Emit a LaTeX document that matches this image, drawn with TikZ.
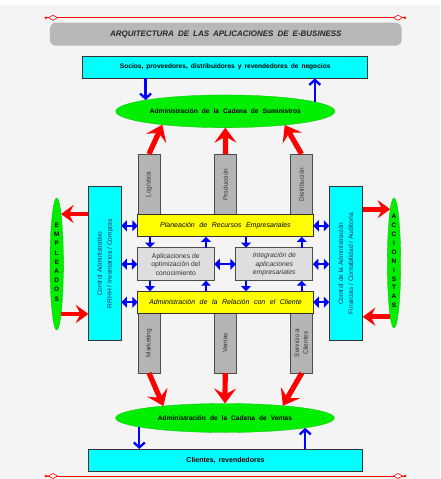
\documentclass[tikz,border=0pt]{standalone}
\usepackage{fontspec}
\setmainfont{Liberation Sans}
\usetikzlibrary{shapes.geometric,arrows.meta,calc}
\definecolor{bgcol}{HTML}{F4F4F4}
\definecolor{cyanbox}{HTML}{00FFFF}
\definecolor{ylw}{HTML}{FFFF00}
\definecolor{grn}{HTML}{00EE00}
\definecolor{colgray}{HTML}{B4B4B4}
\definecolor{boxgray}{HTML}{DEDEDE}
\definecolor{titgray}{HTML}{B8B8B8}
\definecolor{bluea}{HTML}{0000FF}
\definecolor{reda}{HTML}{FF0000}
\definecolor{coltxt}{HTML}{333333}
\definecolor{cytxt}{HTML}{1E2F66}
\newcommand{\wsp}[1]{\spaceskip #1\relax}
\begin{document}
\begin{tikzpicture}[x=1pt,y=-1pt,
  every node/.style={inner sep=0pt, outer sep=0pt},
  titlebox/.style={fill=titgray, rounded corners=6pt, minimum width=351.7pt, minimum height=23pt,
     font=\fontsize{8}{9}\selectfont\bfseries\itshape\wsp{4pt}, text=black!85},
  cybox/.style={fill=cyanbox, draw=black!80, line width=0.8pt},
  hbox/.style={cybox, font=\fontsize{6.6}{7.5}\selectfont\bfseries\wsp{3pt}},
  vbox/.style={cybox, minimum width=33pt, minimum height=154pt,
     font=\fontsize{6.6}{10}\selectfont, text=cytxt},
  greenell/.style={ellipse, fill=grn, draw=grn!80!black, line width=0.3pt},
  bigell/.style={greenell, font=\fontsize{6.6}{7.5}\selectfont\bfseries\wsp{4pt}},
  smallell/.style={greenell, minimum width=13.4pt,
     font=\fontsize{6.4}{9.2}\selectfont\bfseries},
  colbox/.style={fill=colgray, draw=black!70, line width=0.7pt, minimum width=22pt, minimum height=61pt,
     font=\fontsize{6.4}{8.6}\selectfont, text=coltxt},
  ybar/.style={fill=ylw, draw=black!80, line width=0.8pt, minimum width=175.5pt, minimum height=22pt,
     font=\fontsize{7}{8}\selectfont\itshape\wsp{4.6pt}},
  gbox/.style={fill=boxgray, draw=black!70, line width=0.7pt, minimum width=77pt, minimum height=33pt,
     font=\fontsize{6.8}{8.6}\selectfont, text=black!80, align=center},
  rarr/.style={draw=reda, line width=5.2pt, -{Stealth[length=15pt 0 0,width=22pt 0,inset=6pt 0]}},
  rarrs/.style={draw=reda, line width=4.8pt, -{Stealth[length=12.5pt 0 0,width=18pt 0,inset=4.5pt 0]}},
  barr/.style={draw=bluea, line width=2.3pt, -{Triangle[length=5pt 0 0,width=9.5pt 0]}},
  bdbl/.style={draw=bluea, line width=2.5pt, {Triangle[length=5.5pt 0 0,width=11pt 0]}-{Triangle[length=5.5pt 0 0,width=11pt 0]}},
  bout/.style={draw=bluea, line width=2.3pt, -{Straight Barb[length=5pt 0 0,width=11pt 0]}},
  rline/.style={draw=reda, line width=0.8pt},
  rdiam/.style={diamond, draw=reda, fill=white, line width=0.6pt, minimum width=9pt, minimum height=5pt},
  rdot/.style={circle, fill=reda, minimum size=2.8pt}
]
\useasboundingbox (0,0) rectangle (440,479);
\fill[bgcol] (0,5) rectangle (440,479);

% decorative red lines
\node[rdot] (dl1) at (46,17.7) {};
\node[rdot] (dr1) at (405,17.7) {};
\draw[rline] (dl1) -- (dr1);
\node[rdiam] (ml1) at (53,17.7) {};
\node[rdiam] (mr1) at (398,17.7) {};
\node[rdot] (dl2) at (46,476) {};
\node[rdot] (dr2) at (405,476) {};
\draw[rline] (dl2) -- (dr2);
\node[rdiam] (ml2) at (53,476) {};
\node[rdiam] (mr2) at (398,476) {};

% title
\node[titlebox] (title) at (225.8,34.2) {ARQUITECTURA DE LAS APLICACIONES DE E-BUSINESS};

% partners box
\node[hbox, minimum width=285pt, minimum height=22.3pt] (socios) at (225.2,67.2)
  {Socios, proveedores, distribuidores y revendedores de negocios};

% supply chain ellipse
\node[bigell, minimum width=219pt, minimum height=32.7pt] (sumi) at (225.3,111.3)
  {\makebox[0pt]{Administración de la Cadena de Suministros}};

% upper columns
\node[colbox] (logi) at (149,184.5) {\rotatebox{90}{Logística}};
\node[colbox] (prod) at (225.5,184.5) {\rotatebox{90}{Producción}};
\node[colbox] (dist) at (301.5,184.5) {\rotatebox{90}{Distribución}};

% lower columns
\node[colbox, minimum height=60pt] (mark) at (149,343) {\rotatebox{90}{Marketing}};
\node[colbox, minimum height=60pt] (vtas) at (225.2,343) {\rotatebox{90}{Ventas}};
\node[colbox, minimum height=60pt] (serv) at (301.8,343)
  {\rotatebox{90}{\begin{tabular}{@{}c@{}}Servicio a\\Clientes\end{tabular}}};

% yellow bars
\node[ybar] (plan) at (225.5,225.8) {Planeación de Recursos Empresariales};
\node[ybar] (rel) at (225.5,302.2) {Administración de la Relación con el Cliente};

% grey boxes
\node[gbox] (apl) at (175.8,264.2) {Aplicaciones de\\optimización del\\conocimiento};
\node[gbox, font=\fontsize{6.8}{8.6}\selectfont\itshape] (integ) at (274.3,264.2)
  {Integración de\\aplicaciones\\empresariales};

% cyan vertical boxes
\node[vbox] (cyanL) at (104.9,263.7)
  {\rotatebox{90}{\begin{tabular}{@{}c@{}}Control Administrativo\\RRHH / Inventarios / Compras\end{tabular}}};
\node[vbox, minimum width=33.5pt] (cyanR) at (346,263.7)
  {\rotatebox{90}{\begin{tabular}{@{}c@{}}Control de la Administración\\Finanzas / Contabilidad / Auditoría\end{tabular}}};

% side ellipses
\node[smallell, minimum height=132pt] (empl) at (56.7,264)
  {\makebox[0pt]{\smash{\begin{tabular}[c]{@{}c@{}}E\\M\\P\\L\\E\\A\\D\\O\\S\end{tabular}}}};
\node[smallell, minimum height=130pt, font=\fontsize{6.4}{8.9}\selectfont\bfseries] (acc) at (394,263)
  {\makebox[0pt]{\smash{\begin{tabular}[c]{@{}c@{}}A\\C\\C\\I\\O\\N\\I\\S\\T\\A\\S\end{tabular}}}};

% sales chain ellipse
\node[bigell, minimum width=218.7pt, minimum height=29pt] (vent) at (225,418)
  {\makebox[0pt]{Administración de la Cadena de Ventas}};

% customers box
\node[hbox, minimum width=274.4pt, minimum height=22pt] (clientes) at (225.5,460)
  {\makebox[0pt]{\fontsize{7}{8}\selectfont Clientes, revendedores}};

% blue arrows top and bottom
\draw[bout] (sumi.172.6 |- socios.south) -- (sumi.172.6);
\draw[bout] (sumi.6.9) -- (sumi.6.9 |- socios.south);
\draw[bout] (vent.186.7) -- (vent.186.7 |- clientes.north);
\draw[bout] (vent.353.9 |- clientes.north) -- (vent.353.9);

% red arrows to ellipses
\draw[rarr] (logi.north) -- (sumi.192.7);
\draw[rarr] (prod.north) -- (sumi.south);
\draw[rarr] (dist.north) -- (sumi.347.1);
\draw[rarr] (mark.south) -- (vent.169.8);
\draw[rarr] (vtas.south) -- (vent.north);
\draw[rarr] (serv.south) -- (vent.12.3);

% red side arrows
\draw[rarrs] (cyanL.west |- empl.85) -- (empl.85);
\draw[rarrs] (empl.275.5) -- (cyanL.west |- empl.275.5);
\draw[rarrs] (cyanR.east |- acc.94) -- (acc.94);
\draw[rarrs] (acc.266.4) -- (cyanR.east |- acc.266.4);

% blue double arrows
\draw[bdbl] (cyanL.east |- plan.west) -- (plan.west);
\draw[bdbl] (cyanL.east |- apl.west) -- (apl.west);
\draw[bdbl] (cyanL.east |- rel.west) -- (rel.west);
\draw[bdbl] (plan.east) -- (cyanR.west |- plan.east);
\draw[bdbl] (integ.east) -- (cyanR.west |- integ.east);
\draw[bdbl] (rel.east) -- (cyanR.west |- rel.east);
\draw[bdbl] (apl.east) -- (integ.west);

% blue vertical arrows
\coordinate (vx1) at (150,0);
\coordinate (vx2) at (206,0);
\coordinate (vx3) at (246,0);
\coordinate (vx4) at (301.7,0);
\draw[barr] (plan.south -| vx1) -- (apl.north -| vx1);
\draw[barr] (apl.north -| vx2) -- (plan.south -| vx2);
\draw[barr] (plan.south -| vx3) -- (integ.north -| vx3);
\draw[barr] (integ.north -| vx4) -- (plan.south -| vx4);
\draw[barr] (apl.south -| vx1) -- (rel.north -| vx1);
\draw[barr] (rel.north -| vx2) -- (apl.south -| vx2);
\draw[barr] (integ.south -| vx3) -- (rel.north -| vx3);
\draw[barr] (rel.north -| vx4) -- (integ.south -| vx4);
\end{tikzpicture}
\end{document}
